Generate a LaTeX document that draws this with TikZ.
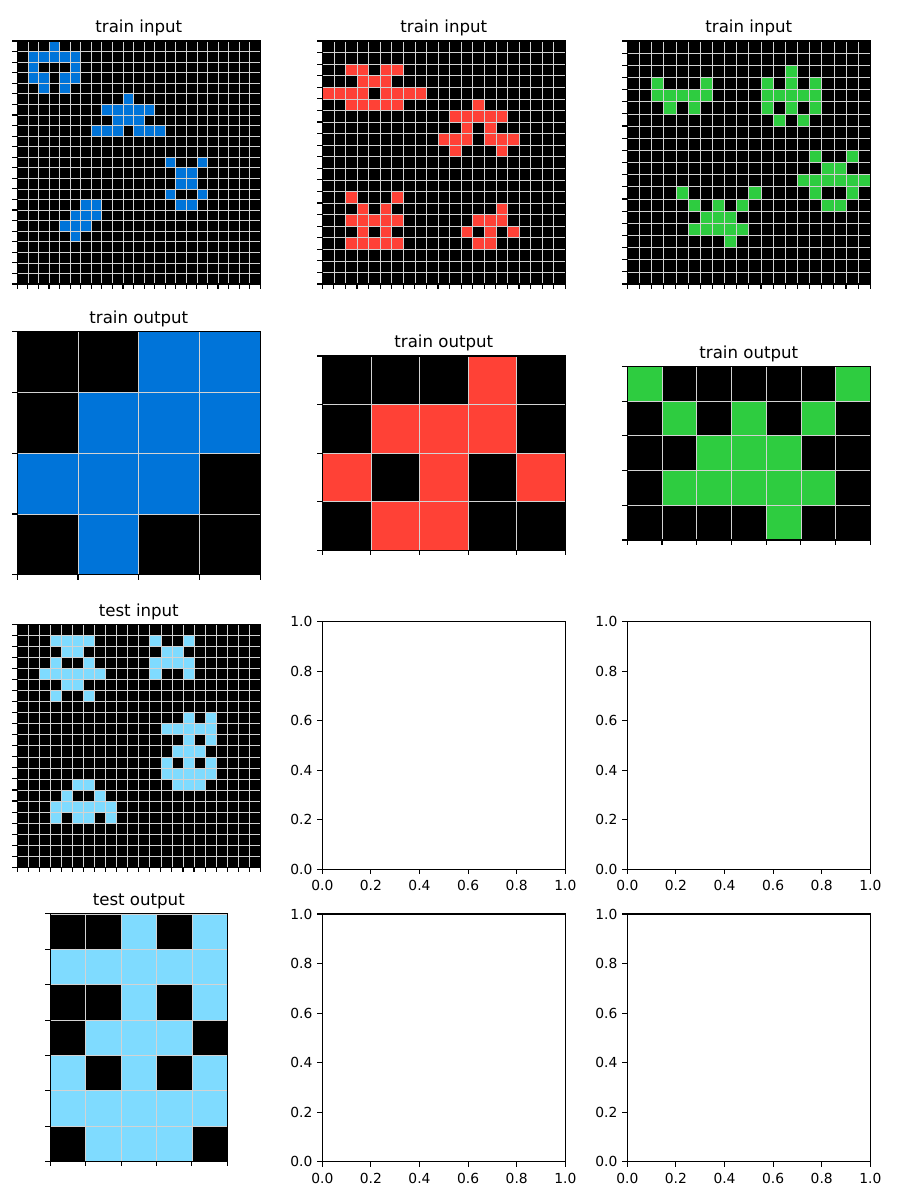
\documentclass[tikz,border=0pt]{standalone}
\usepackage{fontspec}
\setmainfont{DejaVu Sans}
\usepackage{tikz}
\definecolor{arcblue}{HTML}{0074D9}
\definecolor{arcred}{HTML}{FF4136}
\definecolor{arcgreen}{HTML}{2ECC40}
\definecolor{arcsky}{HTML}{7FDBFF}
\definecolor{gridgray}{HTML}{D3D3D3}

% #1 left, #2 top, #3 cell, #4 columns, #5 rows, #6 colour, #7 cells row/col
\newcommand{\arcgrid}[7]{
  \fill[black] (#1,#2) rectangle ++({#4*#3},{#5*#3});
  \foreach \rr/\cc in {#7} {
    \fill[#6] ({#1+\cc*#3},{#2+\rr*#3}) rectangle ++(#3,#3);
  }
  \foreach \i in {0,...,#4} {
    \draw[gridline] ({#1+\i*#3},#2) -- ++(0,{#5*#3});
    \draw[tickmark] ({#1+\i*#3},{#2+#5*#3}) -- ++(0,4.86);
  }
  \foreach \j in {0,...,#5} {
    \draw[gridline] (#1,{#2+\j*#3}) -- ++({#4*#3},0);
    \draw[tickmark] (#1,{#2+\j*#3}) -- ++(-4.86,0);
  }
  \draw[spine] (#1,#2) rectangle ++({#4*#3},{#5*#3});
}

% #1 name, #2 left, #3 top
\newcommand{\emptyaxes}[3]{
  \draw[spine] (#2,#3) rectangle ++(243,247.7);
  \foreach \v [count=\k from 0] in {0.0,0.2,0.4,0.6,0.8,1.0} {
    \draw[tickmark] ({#2+\k*48.6},{#3+247.7}) -- ++(0,4.86);
    \node[ticklabel, anchor=north] (#1-x\k) at ({#2+\k*48.6},{#3+247.7+11}) {\v};
    \draw[tickmark] (#2,{#3+247.7-\k*49.54}) -- ++(-4.86,0);
    \node[ticklabel, anchor=east] (#1-y\k) at ({#2-9.7},{#3+247.7-\k*49.54}) {\v};
  }
}

\begin{document}
\begin{tikzpicture}[
    x=0.01in, y=-0.01in,
    gridline/.style={draw=gridgray, line width=0.5pt},
    tickmark/.style={draw=black, line width=0.8pt},
    spine/.style={draw=black, line width=0.8pt},
    title/.style={anchor=base, inner sep=0pt, font=\fontsize{12}{14}\selectfont},
    ticklabel/.style={inner sep=0pt, font=\fontsize{10}{12}\selectfont},
  ]
  \useasboundingbox (0,0) rectangle (900,1200);
  \fill[white] (0,0) rectangle (900,1200);

  % train inputs
  \arcgrid{17.3}{41}{10.565}{23}{23}{arcblue}{0/3, 1/1,1/2,1/3,1/4,1/5, 2/1,2/5, 3/1,3/2,3/4,3/5, 4/2,4/4,
    5/10, 6/8,6/9,6/10,6/11,6/12, 7/9,7/10,7/11, 8/7,8/8,8/9,8/11,8/12,8/13,
    11/14,11/17, 12/15,12/16, 13/15,13/16, 14/14,14/17, 15/15,15/16,
    15/6,15/7, 16/5,16/6,16/7, 17/4,17/5,17/6, 18/5}
  \arcgrid{322.3}{41}{11.571}{21}{21}{arcred}{2/2,2/3,2/5,2/6, 3/3,3/4,3/5,
    4/0,4/1,4/2,4/3,4/5,4/6,4/7,4/8, 5/2,5/3,5/4,5/5,5/6,
    5/13, 6/11,6/12,6/13,6/14,6/15, 7/12,7/14, 8/10,8/11,8/12,8/14,8/15,8/16, 9/11,9/15,
    13/2,13/6, 14/3,14/5, 15/2,15/3,15/4,15/5,15/6, 16/3,16/5, 17/2,17/3,17/4,17/5,17/6,
    14/15, 15/13,15/14,15/15, 16/12,16/14,16/16, 17/13,17/14}
  \arcgrid{627.3}{41}{12.15}{20}{20}{arcgreen}{3/2,3/6, 4/2,4/3,4/4,4/5,4/6, 5/3,5/5,
    2/13, 3/11,3/13,3/15, 4/11,4/12,4/13,4/14,4/15, 5/11,5/13,5/15, 6/12,6/14,
    9/15,9/18, 10/16,10/17, 11/14,11/15,11/16,11/17,11/18,11/19, 12/15,12/18, 13/16,13/17,
    12/4,12/10, 13/5,13/7,13/9, 14/6,14/7,14/8, 15/5,15/6,15/7,15/8,15/9, 16/8}
  \node[title] (title-in1) at (138.8,32.7) {train input};
  \node[title] (title-in2) at (443.8,32.7) {train input};
  \node[title] (title-in3) at (748.8,32.7) {train input};

  % train outputs
  \arcgrid{17.3}{331.7}{60.75}{4}{4}{arcblue}{0/2,0/3, 1/1,1/2,1/3, 2/0,2/1,2/2, 3/1}
  \arcgrid{322.3}{356}{48.6}{5}{4}{arcred}{0/3, 1/1,1/2,1/3, 2/0,2/2,2/4, 3/1,3/2}
  \arcgrid{627.3}{366.4}{34.714}{7}{5}{arcgreen}{0/0,0/6, 1/1,1/3,1/5, 2/2,2/3,2/4,
    3/1,3/2,3/3,3/4,3/5, 4/4}
  \node[title] (title-out1) at (138.8,323.4) {train output};
  \node[title] (title-out2) at (443.8,347.7) {train output};
  \node[title] (title-out3) at (748.8,358.1) {train output};

  % test pair
  \arcgrid{17.3}{624.3}{11.045}{22}{22}{arcsky}{1/3,1/4,1/5,1/6, 2/4,2/5, 3/3,3/6,
    4/2,4/3,4/4,4/5,4/6,4/7, 5/4,5/5, 6/3,6/6,
    1/12,1/15, 2/13,2/14, 3/12,3/13,3/14,3/15, 4/12,4/15,
    8/15,8/17, 9/13,9/14,9/15,9/16,9/17, 10/15,10/17, 11/14,11/15,11/16,
    12/13,12/15,12/17, 13/13,13/14,13/15,13/16,13/17, 14/14,14/15,14/16,
    14/5,14/6, 15/4,15/7, 16/3,16/4,16/5,16/6,16/7,16/8, 17/3,17/5,17/6,17/8}
  \arcgrid{50.35}{913.9}{35.386}{5}{7}{arcsky}{0/2,0/4, 1/0,1/1,1/2,1/3,1/4, 2/2,2/4,
    3/1,3/2,3/3, 4/0,4/2,4/4, 5/0,5/1,5/2,5/3,5/4, 6/1,6/2,6/3}
  \node[title] (title-test-in) at (138.8,616) {test input};
  \node[title] (title-test-out) at (138.8,905.6) {test output};

  % unused axes
  \emptyaxes{ax32}{322.3}{621.7}
  \emptyaxes{ax33}{627.3}{621.7}
  \emptyaxes{ax42}{322.3}{914}
  \emptyaxes{ax43}{627.3}{914}
\end{tikzpicture}
\end{document}
